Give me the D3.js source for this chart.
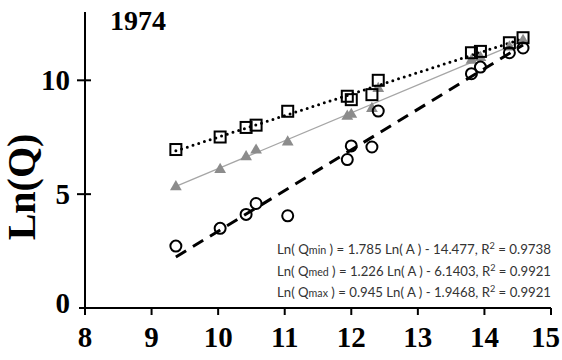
<!DOCTYPE html>
<html>
<head>
<meta charset="utf-8">
<script src="https://cdn.jsdelivr.net/npm/d3@7"></script>
<style>
  body { margin: 0; background: #fff; }
  svg { display: block; }
</style>
</head>
<body>
<svg id="chart" width="562" height="360"></svg>
<script>
// Ln(A) of each station
const lnA = [9.365, 10.03, 10.42, 10.57, 11.045, 11.94, 12.0, 12.31, 12.405, 13.805, 13.94, 14.375, 14.58];
const lnQmax = [6.96, 7.51, 7.93, 8.03, 8.64, 9.30, 9.15, 9.37, 10.0, 11.21, 11.27, 11.65, 11.87];
const lnQmed = [5.32, 6.08, 6.64, 6.93, 7.29, 8.42, 8.5, 8.76, 9.64, 10.88, 11.0, 11.46, 11.75];
const lnQmin = [2.72, 3.50, 4.11, 4.59, 4.05, 6.52, 7.12, 7.07, 8.65, 10.29, 10.58, 11.21, 11.42];

// fitted lines  (slope, intercept)
const fitMin = [1.785, -14.477];
const fitMed = [1.226, -6.1403];
const fitMax = [0.945, -1.9468];

const xTicks = [8, 9, 10, 11, 12, 13, 14, 15];
const yTicks = [0, 5, 10];
const equations = [
    ["Ln( Q", "min", " ) = 1.785 Ln( A ) - 14.477, R", "2", " = 0.9738"],
    ["Ln( Q", "med", " ) = 1.226 Ln( A ) - 6.1403, R", "2", " = 0.9921"],
    ["Ln( Q", "max", " ) = 0.945 Ln( A ) - 1.9468, R", "2", " = 0.9921"]
];

const svg = d3.select("#chart");
const x = d3.scaleLinear().domain([8, 15]).range([85, 551]);
const y = d3.scaleLinear().domain([0, 13]).range([308, 12]);
const serif = "'Liberation Serif', 'Times New Roman', serif";

// axes
svg.append("line").attr("x1", x(8) - 6).attr("x2", x(15)).attr("y1", y(0)).attr("y2", y(0))
    .attr("stroke", "#000").attr("stroke-width", 2);
svg.append("line").attr("x1", x(8)).attr("x2", x(8)).attr("y1", y(13)).attr("y2", y(0))
    .attr("stroke", "#000").attr("stroke-width", 2);

svg.selectAll(".xtick").data(xTicks).enter().append("line")
    .attr("x1", d => x(d)).attr("x2", d => x(d)).attr("y1", y(0)).attr("y2", y(0) + 7)
    .attr("stroke", "#000").attr("stroke-width", 2);
svg.selectAll(".xlab").data(xTicks).enter().append("text")
    .attr("x", d => x(d)).attr("y", 347)
    .attr("text-anchor", d => d === 15 ? "end" : "middle")
    .attr("dx", d => d === 15 ? 9 : 0)
    .style("font-family", serif).style("font-weight", "bold").style("font-size", "29px")
    .text(d => d);

svg.selectAll(".ytick").data(yTicks.filter(d => d > 0)).enter().append("line")
    .attr("x1", x(8) - 8).attr("x2", x(8) + 6).attr("y1", d => y(d)).attr("y2", d => y(d))
    .attr("stroke", "#000").attr("stroke-width", 2);
svg.selectAll(".ylab").data(yTicks).enter().append("text")
    .attr("x", 70).attr("y", d => d === 0 ? y(d) + 5 : y(d) + 10).attr("text-anchor", "end")
    .style("font-family", serif).style("font-weight", "bold").style("font-size", "29px")
    .text(d => d);

svg.append("text").attr("transform", "translate(35,187) rotate(-90)")
    .attr("text-anchor", "middle")
    .style("font-family", serif).style("font-weight", "bold").style("font-size", "40px")
    .text("Ln(Q)");

svg.append("text").attr("x", 110).attr("y", 30)
    .style("font-family", serif).style("font-weight", "bold").style("font-size", "28px")
    .text("1974");

// trend lines
const ext = d3.extent(lnA);
const fitLine = f => ext.map(v => [x(v), y(f[0] * v + f[1])]);
const line = d3.line();
svg.append("path").attr("d", line(fitLine(fitMed))).attr("fill", "none")
    .attr("stroke", "#a6a6a6").attr("stroke-width", 1.3);
svg.append("path").attr("d", line(fitLine(fitMin))).attr("fill", "none")
    .attr("stroke", "#000").attr("stroke-width", 3).attr("stroke-dasharray", "12,8");
svg.append("path").attr("d", line(fitLine(fitMax))).attr("fill", "none")
    .attr("stroke", "#000").attr("stroke-width", 3).attr("stroke-dasharray", "0,6")
    .attr("stroke-linecap", "round");

// markers
svg.selectAll(".tri").data(lnA).enter().append("path")
    .attr("transform", (d, i) => `translate(${x(d)},${y(lnQmed[i])})`)
    .attr("d", d3.symbol().type(d3.symbolTriangle).size(60))
    .attr("fill", "#8c8c8c");
svg.selectAll(".sq").data(lnA).enter().append("rect")
    .attr("x", d => x(d) - 5.5).attr("y", (d, i) => y(lnQmax[i]) - 5.5)
    .attr("width", 11).attr("height", 11)
    .attr("fill", "none").attr("stroke", "#000").attr("stroke-width", 2);
svg.selectAll(".circ").data(lnA).enter().append("circle")
    .attr("cx", d => x(d)).attr("cy", (d, i) => y(lnQmin[i])).attr("r", 5.5)
    .attr("fill", "none").attr("stroke", "#000").attr("stroke-width", 2);

// equations
const eq = svg.selectAll(".eq").data(equations).enter().append("text")
    .attr("x", 277).attr("y", (d, i) => 254 + i * 21.5)
    .attr("textLength", 274).attr("lengthAdjust", "spacingAndGlyphs")
    .style("font-family", "Lato, 'Open Sans', sans-serif").style("font-size", "13px")
    .attr("fill", "#333");
eq.each(function(parts) {
    const t = d3.select(this);
    parts.forEach((p, j) => {
        const s = t.append("tspan").text(p);
        if (j === 1) s.style("font-size", "10.5px");
        if (j === 3) s.style("font-size", "9px").attr("dy", -5);
        if (j === 4) s.attr("dy", 5);
    });
});
</script>
</body>
</html>
